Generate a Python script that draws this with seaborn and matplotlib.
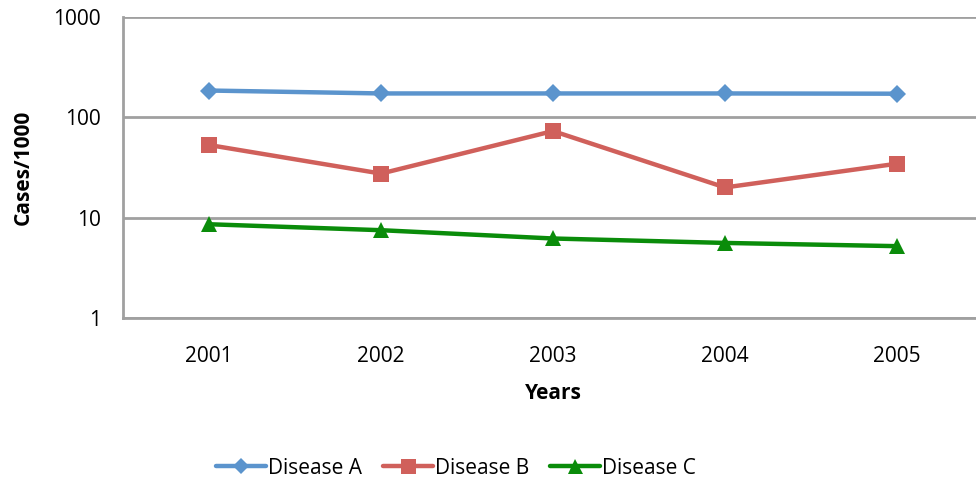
import pandas as pd
import numpy as np
import matplotlib
matplotlib.use("Agg")
import matplotlib.pyplot as plt
import seaborn as sns
from matplotlib.ticker import FixedLocator, NullFormatter

years = ['2001', '2002', '2003', '2004', '2005']
disease_a = [185, 173, 173, 173, 172]
disease_b = [53, 27.5, 73, 20, 34.5]
disease_c = [8.6, 7.5, 6.2, 5.6, 5.2]
series_names = ['Disease A', 'Disease B', 'Disease C']

rows = []
for name, vals in zip(series_names, [disease_a, disease_b, disease_c]):
    for i, v in enumerate(vals):
        rows.append({'pos': i, 'Year': years[i], 'Cases': v, 'Series': name})
df = pd.DataFrame(rows)

sns.set_theme(style='white')
plt.rcParams['font.family'] = ['Open Sans', 'DejaVu Sans']
plt.rcParams['text.color'] = 'black'
plt.rcParams['axes.labelcolor'] = 'black'
plt.rcParams['xtick.labelcolor'] = 'black'
plt.rcParams['ytick.labelcolor'] = 'black'

colors = {'Disease A': '#5b94cd', 'Disease B': '#d0605b', 'Disease C': '#0a8c0a'}
markers = {'Disease A': 'D', 'Disease B': 's', 'Disease C': '^'}
msizes = {'Disease A': 9, 'Disease B': 12, 'Disease C': 12}

fig = plt.figure(figsize=(9.76, 4.91), dpi=100)
ax = fig.add_axes([123 / 976, 173 / 491, 860 / 976, 301 / 491])

sns.lineplot(data=df, x='pos', y='Cases', hue='Series', style='Series',
             markers=markers, dashes=False, palette=colors, linewidth=3.2,
             markersize=11, markeredgewidth=0, ax=ax, legend=False)
for line, name in zip(ax.get_lines(), series_names):
    line.set_markersize(msizes[name])

ax.set_yscale('log')
ax.set_ylim(1, 1000)
ax.set_xlim(-0.5, 4.5)
ax.yaxis.set_major_locator(FixedLocator([1, 10, 100, 1000]))
ax.set_yticklabels(['1', '10', '100', '1000'])
ax.yaxis.set_minor_locator(FixedLocator([]))
ax.yaxis.grid(True, color='#a0a0a0', linewidth=2)
ax.set_axisbelow(True)

ax.set_xticks(range(len(years)))
ax.set_xticklabels(years)
ax.xaxis.set_minor_locator(FixedLocator(np.arange(-0.5, 5, 1)))
ax.xaxis.set_minor_formatter(NullFormatter())
ax.tick_params(axis='x', which='major', length=0, pad=20, labelsize=15)
ax.tick_params(axis='x', which='minor', length=7, width=2, color='#a0a0a0', direction='out')
ax.tick_params(axis='y', which='major', length=10, width=2, color='#a0a0a0', direction='out', pad=6, labelsize=15)

for s in ['top', 'right']:
    ax.spines[s].set_visible(False)
for s in ['left', 'bottom']:
    ax.spines[s].set_color('#a0a0a0')
    ax.spines[s].set_linewidth(2)

ax.set_xlabel('Years', fontsize=15, fontweight='bold', labelpad=12)
ax.set_ylabel('Cases/1000', fontsize=15, fontweight='bold', labelpad=14)

handles = [plt.Line2D([], [], color=colors[n], marker=markers[n], markersize=msizes[n] * 0.9,
                      linewidth=3.2, markeredgewidth=0) for n in series_names]
fig.legend(handles, series_names, loc='center', bbox_to_anchor=(456 / 976, 1 - 468 / 491),
           ncol=3, frameon=False, fontsize=15, handlelength=2.4, handletextpad=0.1,
           columnspacing=1.0)

plt.savefig('out.png', dpi=100)
